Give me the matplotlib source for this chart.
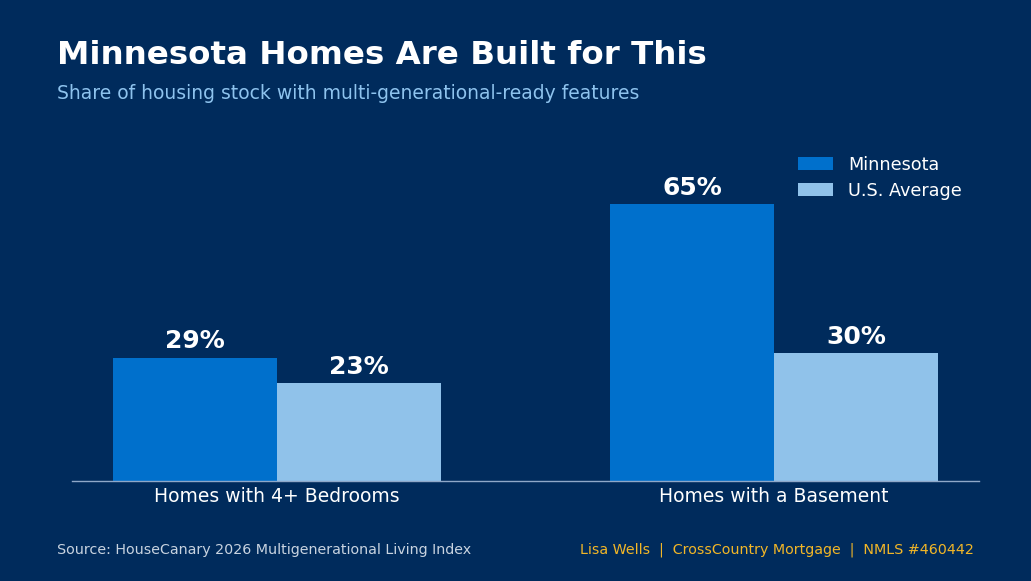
import matplotlib
matplotlib.use("Agg")
import matplotlib.pyplot as plt
import numpy as np

categories = ["Homes with 4+ Bedrooms", "Homes with a Basement"]
minnesota = [29, 65]
us_average = [23, 30]
series_names = ["Minnesota", "U.S. Average"]

BG = "#002B5C"
C_MN = "#0070CC"
C_US = "#90C2EA"

fig = plt.figure(figsize=(10.31, 5.81), dpi=100, facecolor=BG)
ax = fig.add_axes([0.0698, 0.1721, 0.8798, 0.5955])
ax.set_facecolor(BG)

x = np.arange(len(categories))
w = 0.33
b1 = ax.bar(x - w / 2, minnesota, w, color=C_MN, label=series_names[0])
b2 = ax.bar(x + w / 2, us_average, w, color=C_US, label=series_names[1])

for bars in (b1, b2):
    for r in bars:
        ax.annotate(f"{r.get_height():.0f}%", (r.get_x() + r.get_width() / 2, r.get_height()),
                    xytext=(0, 3), textcoords="offset points", ha="center", va="bottom",
                    color="white", fontsize=18, fontweight="bold")

ax.set_xlim(-0.4125, 1.4125)
ax.set_ylim(0, 81.25)
ax.set_xticks(x)
ax.set_xticklabels(categories, color="white", fontsize=13.5)
ax.tick_params(axis="x", length=0, pad=4)
ax.set_yticks([])
for s in ["top", "right", "left"]:
    ax.spines[s].set_visible(False)
ax.spines["bottom"].set_color("#8FA8C8")
ax.spines["bottom"].set_linewidth(1)

leg = ax.legend(loc="upper right", frameon=False, fontsize=12.7, labelcolor="white",
                handlelength=2.0, handleheight=0.75, labelspacing=0.45, handletextpad=0.85,
                borderaxespad=0.3, bbox_to_anchor=(0.995, 0.975))

fig.text(0.0553, 0.890, "Minnesota Homes Are Built for This", color="white", fontsize=23.4,
         fontweight="bold", ha="left", va="baseline")
fig.text(0.0553, 0.829, "Share of housing stock with multi-generational-ready features",
         color="#8EC3EE", fontsize=13.5, ha="left", va="baseline")
fig.text(0.0553, 0.053, "Source: HouseCanary 2026 Multigenerational Living Index",
         color="#C8D3E0", fontsize=10.25, ha="left", va="center")
fig.text(0.945, 0.053, "Lisa Wells  |  CrossCountry Mortgage  |  NMLS #460442",
         color="#F2B627", fontsize=10.3, ha="right", va="center")

fig.savefig("out.png", dpi=100, facecolor=BG)
